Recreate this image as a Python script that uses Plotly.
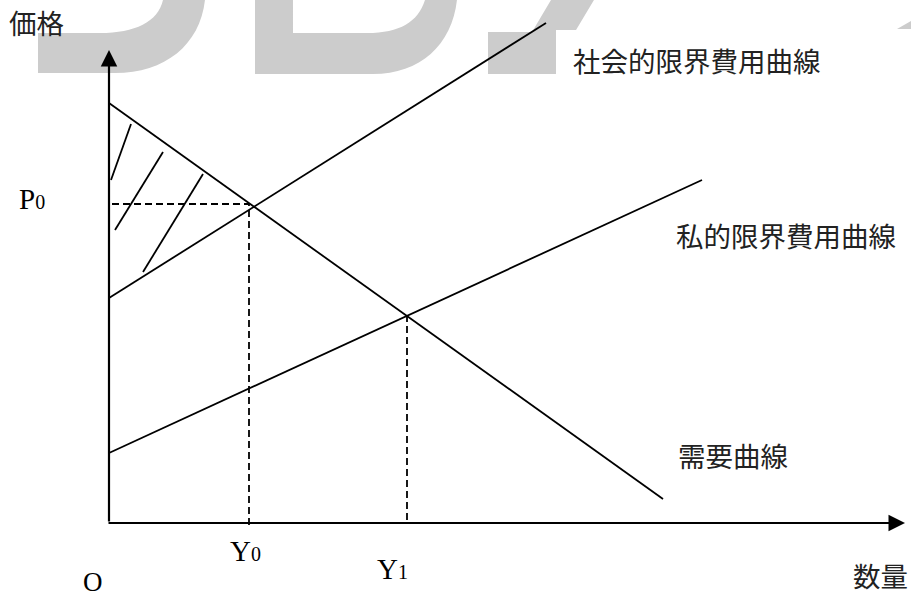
import plotly.graph_objects as go

# supply / demand diagram (1 unit = 10 px)
demand_q = [0, 55.4]
demand_p = [42.0, 2.4]
social_mc_q = [0, 43.7]
social_mc_p = [22.5, 50.0]
private_mc_q = [0, 59.3]
private_mc_p = [7.0, 34.3]

p0 = 31.9
y0 = 14.0
y1 = 29.8
p1 = 20.8

hatch_q = [[0.2, 2.2], [0.6, 5.4], [3.4, 9.4]]
hatch_p = [[34.3, 39.9], [29.3, 37.1], [25.1, 34.9]]

axis_q_max = 79.6
axis_p_max = 47.3

labels_jp = ['価格', '数量', '社会的限界費用曲線', '私的限界費用曲線', '需要曲線']

W, H = 911, 596
JP = 'Noto Sans CJK JP'
SERIF = 'Liberation Serif'
GRAY = '#cccccc'


def px_path(pts):
    # decorative watermark drawn in paper coords from pixel-ish outlines
    out = []
    for cmd, coords in pts:
        s = ' '.join(f'{x / W:.4f},{1 - y / H:.4f}' for x, y in coords)
        out.append(f'{cmd} {s}' if coords else cmd)
    return ' '.join(out)


watermark = [
    [('M', [(38, 73)]), ('L', [(115, 73)]), ('C', [(165, 73), (200, 45), (205, 0)]),
     ('L', [(163, 0)]), ('C', [(158, 22), (135, 33), (100, 33)]), ('L', [(38, 33)]), ('Z', [])],
    [('M', [(255, 0)]), ('L', [(255, 74)]), ('L', [(373, 74)]),
     ('C', [(420, 74), (452, 45), (457, 0)]), ('L', [(425, 0)]),
     ('C', [(418, 22), (400, 33), (367, 33)]), ('L', [(293, 33)]), ('L', [(293, 0)]), ('Z', [])],
    [('M', [(488, 74)]), ('L', [(488, 32)]), ('L', [(532, 32)]), ('L', [(551, 0)]),
     ('L', [(594, 0)]), ('L', [(576, 30)]), ('L', [(556, 30)]), ('L', [(556, 74)]), ('Z', [])],
    [('M', [(897, 29)]), ('L', [(911, 29)]), ('L', [(911, 21)]), ('Z', [])],
]

fig = go.Figure()

line = dict(color='black', width=1.8)
dash = dict(color='black', width=1.8, dash='7px,4px')

fig.add_trace(go.Scatter(x=demand_q, y=demand_p, mode='lines', line=line))
fig.add_trace(go.Scatter(x=social_mc_q, y=social_mc_p, mode='lines', line=line))
fig.add_trace(go.Scatter(x=private_mc_q, y=private_mc_p, mode='lines', line=line))

hx, hy = [], []
for q, p in zip(hatch_q, hatch_p):
    hx += q + [None]
    hy += p + [None]
fig.add_trace(go.Scatter(x=hx, y=hy, mode='lines', line=line))

fig.add_trace(go.Scatter(x=[0.3, y0, y0], y=[p0, p0, -0.5], mode='lines', line=dash))
fig.add_trace(go.Scatter(x=[y1, y1], y=[p1, 0], mode='lines', line=dash))

# axes with arrow heads
for tip, tail in [((0, axis_p_max), (0, 0)), ((axis_q_max, 0), (-0.2, 0))]:
    fig.add_annotation(x=tip[0], y=tip[1], ax=tail[0], ay=tail[1],
                       xref='x', yref='y', axref='x', ayref='y', text='',
                       showarrow=True, arrowhead=2, arrowsize=1.5,
                       arrowwidth=2.2, arrowcolor='black')

for path in watermark:
    fig.add_shape(type='path', path=px_path(path), xref='paper', yref='paper',
                  fillcolor=GRAY, line=dict(width=0), layer='below')

jp_font = dict(family=JP, size=27.5, color='#222222')
jp_pos = [(-7.3, 50.1), (77.1, -5.2), (58.8, 46.3), (67.7, 28.8), (62.4, 6.8)]
for txt, (x, y) in zip(labels_jp, jp_pos):
    fig.add_annotation(x=x, y=y, text=txt, showarrow=False, font=jp_font)

sub = '<span style="font-size:20px">{}</span>'
latin = [('P' + sub.format('0'), -7.7, 32.4, 29),
         ('Y' + sub.format('0'), 13.6, -2.8, 29),
         ('Y' + sub.format('1'), 28.3, -4.6, 29),
         ('O', -1.6, -5.9, 27)]
for txt, x, y, size in latin:
    fig.add_annotation(x=x, y=y, text=txt, showarrow=False,
                       font=dict(family=SERIF, size=size, color='black'))

fig.update_xaxes(range=[-10.9, 80.2], visible=False)
fig.update_yaxes(range=[-7.3, 52.3], visible=False)
fig.update_layout(
    width=W, height=H,
    margin=dict(l=0, r=0, t=0, b=0),
    showlegend=False,
    plot_bgcolor='white',
    paper_bgcolor='white',
)
fig.write_html('out.html', config={'displayModeBar': False},
               post_script="document.body.style.margin='0';")
